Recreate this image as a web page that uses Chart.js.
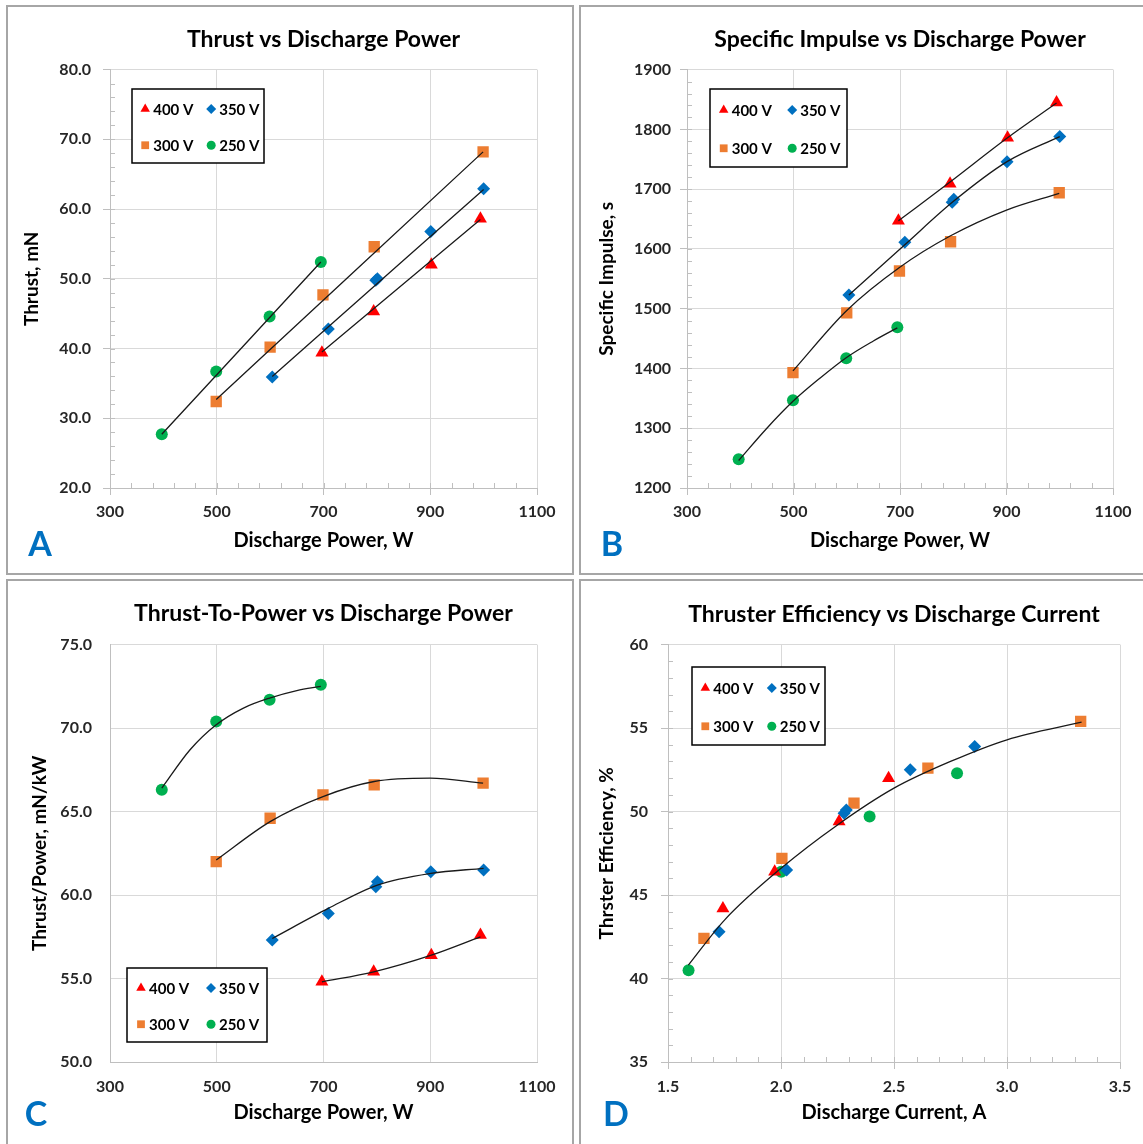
<!DOCTYPE html>
<html>
<head>
<meta charset="utf-8">
<script src="https://cdn.jsdelivr.net/npm/chart.js@4.4.1/dist/chart.umd.min.js"></script>
<style>
  body { margin: 0; background: #fff; }
  #page { position: relative; width: 1143px; height: 1144px; overflow: hidden; background: #fff; }
  .frame { position: absolute; border: 2px solid #a6a6a6; box-sizing: border-box; }
  canvas { position: absolute; }
</style>
</head>
<body>
<div id="page">
  <div class="frame" style="left:6px;top:5px;width:568px;height:570px"></div>
  <div class="frame" style="left:579px;top:5px;width:580px;height:570px"></div>
  <div class="frame" style="left:6px;top:579px;width:568px;height:580px"></div>
  <div class="frame" style="left:579px;top:579px;width:580px;height:580px"></div>
  <canvas id="chartA" width="564" height="565" style="left:8px;top:8px"></canvas>
  <canvas id="chartB" width="562" height="565" style="left:581px;top:8px"></canvas>
  <canvas id="chartC" width="564" height="563" style="left:8px;top:581px"></canvas>
  <canvas id="chartD" width="562" height="563" style="left:581px;top:581px"></canvas>
</div>
<script>
// discharge power, W
const pow400 = [697, 794, 902, 994];
const pow350 = [604, 709, 798, 801, 901, 1000];
const pow300 = [499, 600, 699, 795, 999];
const pow250 = [397, 499, 599, 695];

// A: thrust, mN
const thrust400 = [39.4, 45.3, 52.0, 58.6];
const thrust350 = [35.9, 42.8, 49.8, 50.0, 56.8, 62.9];
const thrust300 = [32.4, 40.2, 47.7, 54.6, 68.2];
const thrust250 = [27.7, 36.7, 44.6, 52.4];

// B: specific impulse, s
const isp400 = [1647, 1709, 1786, 1845];
const isp350 = [1523, 1611, 1678, 1683, 1746, 1788];
const isp300 = [1393, 1493, 1563, 1612, 1694];
const isp250 = [1248, 1347, 1417, 1469];

// C: thrust/power, mN/kW
const tp400 = [54.8, 55.4, 56.4, 57.6];
const tp350 = [57.3, 58.9, 60.5, 60.8, 61.4, 61.5];
const tp300 = [62.0, 64.6, 66.0, 66.6, 66.7];
const tp250 = [66.3, 70.4, 71.7, 72.6];

// D: discharge current, A and efficiency, %
const cur400 = [1.743, 1.972, 2.257, 2.476];
const cur350 = [1.726, 2.025, 2.279, 2.289, 2.572, 2.857];
const cur300 = [1.659, 2.004, 2.323, 2.650, 3.326];
const cur250 = [1.591, 2.001, 2.392, 2.779];
const eff400 = [44.2, 46.4, 49.4, 52.0];
const eff350 = [42.8, 46.5, 49.9, 50.1, 52.5, 53.9];
const eff300 = [42.4, 47.2, 50.5, 52.6, 55.4];
const eff250 = [40.5, 46.4, 49.7, 52.3];

// trend lines
const thrustFitX400 = [697, 994], thrustFit400 = [39.5, 58.5];
const thrustFitX350 = [604, 1000], thrustFit350 = [36.0, 62.8];
const thrustFitX300 = [499, 999], thrustFit300 = [32.7, 68.2];
const thrustFitX250 = [397, 695], thrustFit250 = [27.7, 52.4];

const ispFitX400 = [697, 794, 902, 994], ispFit400 = [1647, 1712, 1786, 1844];
const ispFitX350 = [604, 709, 801, 901, 1000], ispFit350 = [1523, 1607, 1680, 1746, 1788];
const ispFitX300 = [499, 600, 699, 795, 900, 999], ispFit300 = [1396, 1497, 1569, 1622, 1665, 1693];
const ispFitX250 = [397, 450, 499, 550, 599, 650, 695], ispFit250 = [1246, 1300, 1345, 1384, 1418, 1446, 1468];

const tpFitX400 = [697, 794, 902, 994], tpFit400 = [54.8, 55.4, 56.4, 57.5];
const tpFitX350 = [604, 709, 801, 901, 1000], tpFit350 = [57.4, 59.2, 60.6, 61.3, 61.6];
const tpFitX300 = [499, 600, 699, 795, 900, 999], tpFit300 = [62.1, 64.4, 65.9, 66.8, 67.0, 66.7];
const tpFitX250 = [397, 450, 499, 550, 599, 650, 695], tpFit250 = [66.4, 68.7, 70.2, 71.2, 71.8, 72.25, 72.5];

const effFitX = [1.59, 1.75, 2.0, 2.25, 2.5, 2.75, 3.0, 3.33];
const effFit = [40.8, 43.5, 46.6, 49.2, 51.4, 53.0, 54.3, 55.35];

// tick labels
const powerTicks = [300, 500, 700, 900, 1100];
const thrustTicks = [20, 30, 40, 50, 60, 70, 80];
const ispTicks = [1200, 1300, 1400, 1500, 1600, 1700, 1800, 1900];
const tpTicks = [50, 55, 60, 65, 70, 75];
const currentTicks = [1.5, 2.0, 2.5, 3.0, 3.5];
const effTicks = [35, 40, 45, 50, 55, 60];

const seriesLabels = ["400 V", "350 V", "300 V", "250 V"];
const seriesStyles = ["triangle", "rectRot", "rect", "circle"];
const seriesColors = ["#FF0000", "#0070C0", "#ED7D31", "#00B050"];
const seriesRadius = [7.5, 6.5, 8, 6];
const legendRadius = [5.5, 5, 5.5, 4.5];

const FONT = "Lato";

function points(xs, ys) {
    return xs.map((x, i) => ({ x: x, y: ys[i] }));
}

function drawMarker(ctx, style, x, y, r) {
    ctx.beginPath();
    if (style === "triangle") {
        ctx.moveTo(x, y - r);
        ctx.lineTo(x + r * 0.866, y + r / 2);
        ctx.lineTo(x - r * 0.866, y + r / 2);
    } else if (style === "rectRot") {
        ctx.moveTo(x - r, y);
        ctx.lineTo(x, y - r);
        ctx.lineTo(x + r, y);
        ctx.lineTo(x, y + r);
    } else if (style === "rect") {
        ctx.rect(x - r * 0.707, y - r * 0.707, r * 1.414, r * 1.414);
    } else {
        ctx.arc(x, y, r, 0, Math.PI * 2);
    }
    ctx.closePath();
    ctx.fill();
}

// minor ticks, boxed legend and panel letter
const panelExtras = {
    id: "panelExtras",
    beforeDatasetsDraw(chart, args, opts) {
        if (!opts.minor) return;
        const ctx = chart.ctx;
        const area = chart.chartArea;
        const xs = chart.scales.x, ys = chart.scales.y;
        ctx.save();
        ctx.strokeStyle = "#bfbfbf";
        ctx.lineWidth = 1;
        ctx.beginPath();
        let n = Math.round((xs.max - xs.min) / opts.minor.x);
        for (let i = 1; i < n; i++) {
            const px = Math.round(xs.getPixelForValue(xs.min + i * opts.minor.x)) + 0.5;
            ctx.moveTo(px, area.bottom);
            ctx.lineTo(px, area.bottom - 5);
        }
        n = Math.round((ys.max - ys.min) / opts.minor.y);
        for (let i = 1; i < n; i++) {
            const py = Math.round(ys.getPixelForValue(ys.min + i * opts.minor.y)) + 0.5;
            ctx.moveTo(area.left, py);
            ctx.lineTo(area.left + 5, py);
        }
        ctx.stroke();
        ctx.restore();
    },
    afterDraw(chart, args, opts) {
        const ctx = chart.ctx;
        ctx.save();
        const b = opts.legendBox;
        ctx.fillStyle = "#fff";
        ctx.fillRect(b.x, b.y, b.w, b.h);
        ctx.strokeStyle = "#000";
        ctx.lineWidth = 1.5;
        ctx.strokeRect(b.x, b.y, b.w, b.h);
        ctx.font = "bold 15px " + FONT;
        ctx.textBaseline = "middle";
        ctx.textAlign = "left";
        for (let i = 0; i < 4; i++) {
            const mx = b.x + b.w * (i % 2 === 0 ? 0.1 : 0.6);
            const my = b.y + b.h * (i < 2 ? 0.27 : 0.76);
            ctx.fillStyle = seriesColors[i];
            drawMarker(ctx, seriesStyles[i], mx, my, legendRadius[i]);
            ctx.fillStyle = "#000";
            ctx.fillText(seriesLabels[i], mx + 8, my + 1);
        }
        ctx.font = "bold 34px " + FONT;
        ctx.fillStyle = "#0070C0";
        ctx.textAlign = "center";
        ctx.fillText(opts.letter.text, opts.letter.x, opts.letter.y);
        ctx.restore();
    }
};

function makePanel(id, cfg) {
    const datasets = [];
    cfg.series.forEach((s, i) => {
        datasets.push({
            label: seriesLabels[i],
            data: points(s[0], s[1]),
            pointStyle: seriesStyles[i],
            pointRadius: seriesRadius[i],
            backgroundColor: seriesColors[i],
            borderColor: seriesColors[i],
            borderWidth: 0,
            showLine: false,
            order: 1
        });
    });
    cfg.fits.forEach(f => {
        datasets.push({
            label: "fit",
            data: points(f[0], f[1]),
            showLine: true,
            pointRadius: 0,
            borderColor: "#1a1a1a",
            borderWidth: 1.3,
            fill: false,
            cubicInterpolationMode: "monotone",
            order: 0
        });
    });

    const tickFont = { family: FONT, size: 16, weight: "bold" };

    new Chart(document.getElementById(id), {
        type: "scatter",
        data: { datasets: datasets },
        options: {
            responsive: false,
            animation: false,
            events: [],
            layout: { padding: { left: 0, right: cfg.padRight, top: 0, bottom: 0 } },
            plugins: {
                legend: { display: false },
                tooltip: { enabled: false },
                title: {
                    display: true,
                    text: cfg.title,
                    fullSize: false,
                    color: "#000",
                    font: { family: FONT, size: 23, weight: "bold" },
                    padding: { top: cfg.titleTop, bottom: cfg.titleBottom }
                },
                panelExtras: { minor: cfg.minor, legendBox: cfg.legendBox, letter: cfg.letter }
            },
            scales: {
                x: {
                    type: "linear",
                    min: cfg.xTicks[0],
                    max: cfg.xTicks[cfg.xTicks.length - 1],
                    afterBuildTicks: scale => { scale.ticks = cfg.xTicks.map(v => ({ value: v })); },
                    afterFit: scale => { scale.height = cfg.xHeight; },
                    ticks: {
                        font: tickFont,
                        color: "#262626",
                        padding: cfg.xTickPad,
                        maxRotation: 0,
                        autoSkip: false,
                        callback: cfg.xFormat
                    },
                    grid: { color: "#d9d9d9", tickColor: "#bfbfbf", tickLength: 7, drawTicks: cfg.drawTicks },
                    border: { color: "#bfbfbf" },
                    title: {
                        display: true,
                        text: cfg.xTitle,
                        color: "#000",
                        font: { family: FONT, size: 20, weight: "bold" },
                        padding: { top: 0, bottom: cfg.xTitlePad }
                    }
                },
                y: {
                    type: "linear",
                    min: cfg.yTicks[0],
                    max: cfg.yTicks[cfg.yTicks.length - 1],
                    afterBuildTicks: scale => { scale.ticks = cfg.yTicks.map(v => ({ value: v })); },
                    afterFit: scale => { scale.width = cfg.yWidth; },
                    ticks: {
                        font: tickFont,
                        color: "#262626",
                        padding: cfg.yTickPad,
                        autoSkip: false,
                        callback: cfg.yFormat
                    },
                    grid: { color: "#d9d9d9", tickColor: "#bfbfbf", tickLength: 7, drawTicks: cfg.drawTicks },
                    border: { color: "#bfbfbf" },
                    title: {
                        display: true,
                        text: cfg.yTitle,
                        color: "#000",
                        font: { family: FONT, size: 19, weight: "bold" },
                        padding: { top: cfg.yTitlePad, bottom: 0 }
                    }
                }
            }
        },
        plugins: [panelExtras]
    });
}

const fmt0 = v => String(v);
const fmt1 = v => v.toFixed(1);

makePanel("chartA", {
    title: "Thrust vs Discharge Power",
    xTitle: "Discharge Power, W",
    yTitle: "Thrust, mN",
    xTicks: powerTicks, yTicks: thrustTicks,
    xFormat: fmt0, yFormat: fmt1,
    series: [[pow400, thrust400], [pow350, thrust350], [pow300, thrust300], [pow250, thrust250]],
    fits: [[thrustFitX400, thrustFit400], [thrustFitX350, thrustFit350], [thrustFitX300, thrustFit300], [thrustFitX250, thrustFit250]],
    padRight: 35, yWidth: 102, xHeight: 85,
    titleTop: 18, titleBottom: 16,
    xTickPad: 7, yTickPad: 12, xTitlePad: 20, yTitlePad: 12.6,
    drawTicks: true, minor: { x: 40, y: 2 },
    legendBox: { x: 124, y: 81, w: 132, h: 74 },
    letter: { text: "A", x: 32, y: 537 }
});

makePanel("chartB", {
    title: "Specific Impulse vs Discharge Power",
    xTitle: "Discharge Power, W",
    yTitle: "Specific Impulse, s",
    xTicks: powerTicks, yTicks: ispTicks,
    xFormat: fmt0, yFormat: fmt0,
    series: [[pow400, isp400], [pow350, isp350], [pow300, isp300], [pow250, isp250]],
    fits: [[ispFitX400, ispFit400], [ispFitX350, ispFit350], [ispFitX300, ispFit300], [ispFitX250, ispFit250]],
    padRight: 30, yWidth: 106, xHeight: 85,
    titleTop: 18, titleBottom: 16,
    xTickPad: 7, yTickPad: 9, xTitlePad: 20, yTitlePad: 14.6,
    drawTicks: true, minor: { x: 40, y: 20 },
    legendBox: { x: 129, y: 81, w: 137, h: 78 },
    letter: { text: "B", x: 31, y: 537 }
});

makePanel("chartC", {
    title: "Thrust-To-Power vs Discharge Power",
    xTitle: "Discharge Power, W",
    yTitle: "Thrust/Power, mN/kW",
    xTicks: powerTicks, yTicks: tpTicks,
    xFormat: fmt0, yFormat: fmt1,
    series: [[pow400, tp400], [pow350, tp350], [pow300, tp300], [pow250, tp250]],
    fits: [[tpFitX400, tpFit400], [tpFitX350, tpFit350], [tpFitX300, tpFit300], [tpFitX250, tpFit250]],
    padRight: 35, yWidth: 102, xHeight: 82,
    titleTop: 19, titleBottom: 17,
    xTickPad: 15, yTickPad: 18, xTitlePad: 19, yTitlePad: 20.6,
    drawTicks: false, minor: null,
    legendBox: { x: 119, y: 387, w: 140, h: 74 },
    letter: { text: "C", x: 28, y: 534 }
});

makePanel("chartD", {
    title: "Thruster Efficiency vs Discharge Current",
    xTitle: "Discharge Current, A",
    yTitle: "Thrster Efficiency, %",
    xTicks: currentTicks, yTicks: effTicks,
    xFormat: fmt1, yFormat: fmt0,
    series: [[cur400, eff400], [cur350, eff350], [cur300, eff300], [cur250, eff250]],
    fits: [[effFitX, effFit]],
    padRight: 23, yWidth: 87, xHeight: 82,
    titleTop: 20, titleBottom: 16,
    xTickPad: 8, yTickPad: 13, xTitlePad: 19, yTitlePad: 14.6,
    drawTicks: true, minor: { x: 0.1, y: 1 },
    legendBox: { x: 111, y: 86, w: 133, h: 78 },
    letter: { text: "D", x: 35, y: 534 }
});
</script>
</body>
</html>
